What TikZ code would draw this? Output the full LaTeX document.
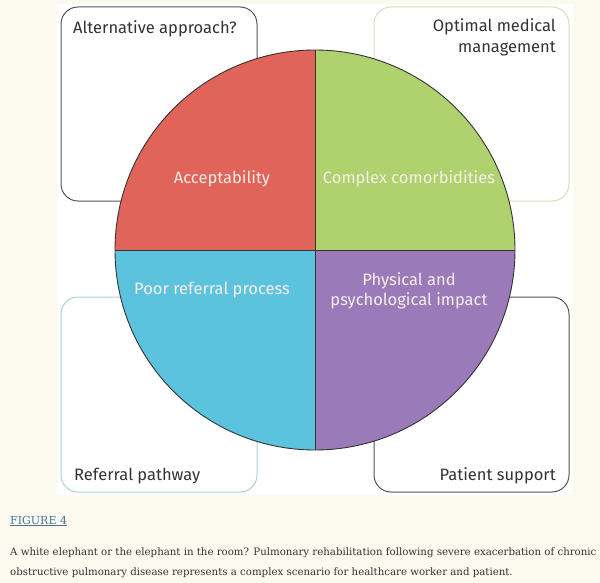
\documentclass[tikz,border=0pt]{standalone}
\usepackage{fontspec}
\setmainfont{Fira Sans}
\newfontfamily\capfont{DejaVu Serif}
\definecolor{bgcream}{HTML}{FCFAEF}
\definecolor{txtgray}{HTML}{333333}
\definecolor{qred}{HTML}{E0645A}
\definecolor{qgreen}{HTML}{AFD26F}
\definecolor{qblue}{HTML}{5CC3DF}
\definecolor{qpurple}{HTML}{9A7AB8}
\definecolor{lbltxt}{HTML}{F7EEE8}
\definecolor{edgegreen}{HTML}{D9DDBF}
\definecolor{edgeblue}{HTML}{A9D3E0}
\definecolor{edgedark}{HTML}{555555}
\definecolor{figblue}{HTML}{4C7396}
\begin{document}
\begin{tikzpicture}[x=1pt,y=-1pt,
  cornerbox/.style={rounded corners=17pt, fill=white, line width=1pt},
  boxlabel/.style={text=txtgray, font=\fontsize{16.5}{21}\selectfont, inner sep=0pt},
  quadlabel/.style={text=lbltxt, font=\fontsize{16.5}{20}\selectfont, inner sep=0pt, align=center},
  captext/.style={text=txtgray, font=\capfont\fontsize{10.2}{20}\selectfont, inner sep=0pt, anchor=base west}
]
\useasboundingbox (0,0) rectangle (600,583);
\fill[bgcream] (0,0) rectangle (600,583);
\fill[white] (57,4) rectangle (573,495);
% corner boxes
\draw[cornerbox, draw=edgedark] (61,7) rectangle (257,201);
\draw[cornerbox, draw=edgegreen] (374,7) rectangle (569,201);
\draw[cornerbox, draw=edgeblue] (61,297) rectangle (257,492);
\draw[cornerbox, draw=edgedark] (374,297) rectangle (569,492);
% circle quadrants
\coordinate (c) at (315,250);
\begin{scope}
\clip (c) circle[radius=200];
\fill[qred] (115,50) rectangle (315,250);
\fill[qgreen] (315,50) rectangle (515,250);
\fill[qblue] (115,250) rectangle (315,450);
\fill[qpurple] (315,250) rectangle (515,450);
\end{scope}
\draw[txtgray, line width=0.9pt] (c) circle[radius=200];
\draw[txtgray, line width=0.9pt] (115,250) -- (515,250) (315,50) -- (315,450);
% quadrant labels
\node[quadlabel] (acc) at (222,179) {Acceptability};
\node[quadlabel] (com) at (409,179) {Complex comorbidities};
\node[quadlabel] (poor) at (212,290) {Poor referral process};
\node[quadlabel] (phys) at (409,291) {Physical and\\psychological impact};
% box labels
\node[boxlabel, anchor=base west] (alt) at (73,34) {Alternative approach?};
\node[boxlabel, anchor=north east, align=right] (opt) at (556,18) {Optimal medical\\management};
\node[boxlabel, anchor=base west] (ref) at (74,480) {Referral pathway};
\node[boxlabel, anchor=base east] (pat) at (556,480) {Patient support};
% caption
\node[text=figblue, font=\capfont\fontsize{11}{13}\selectfont, inner sep=0pt, anchor=base west] (fig) at (10,524) {\underline{FIGURE 4}};
\node[captext] (cap1) at (10,555) {A white elephant or the elephant in the room? Pulmonary rehabilitation following severe exacerbation of chronic};
\node[captext] (cap2) at (10,575) {obstructive pulmonary disease represents a complex scenario for healthcare worker and patient.};
\end{tikzpicture}
\end{document}
